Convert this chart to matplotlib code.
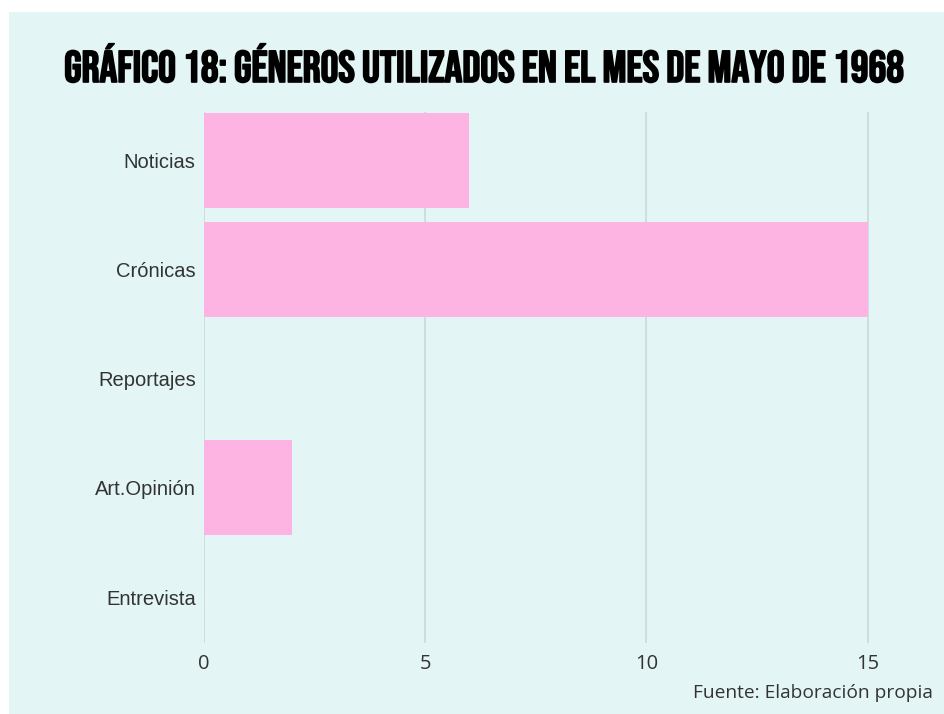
import matplotlib
matplotlib.use('Agg')
import matplotlib.pyplot as plt
from matplotlib.patches import Rectangle
import matplotlib.patheffects as pe

categories = ['Noticias', 'Crónicas', 'Reportajes', 'Art.Opinión', 'Entrevista']
values = [6, 15, 0, 2, 0]
xticks = [0, 5, 10, 15]

bg = '#e3f6f5'
bar_color = '#fdb4e2'
grid_color = '#cbdcdc'
text_color = '#333333'

fig = plt.figure(figsize=(9.45, 7.14), dpi=100, facecolor='white')
# light panel behind everything
fig.patches.append(Rectangle((9 / 945, 0), 1, 1 - 12 / 714, transform=fig.transFigure,
                             facecolor=bg, edgecolor='none', zorder=-10))

ax = fig.add_axes([204 / 945, 71 / 714, 708 / 945, 531 / 714])
ax.set_facecolor('none')

ypos = list(range(len(categories)))
ax.barh(ypos, values, height=0.87, color=bar_color, zorder=2)

ax.set_xlim(0, 16)
ax.set_ylim(4.42, -0.44)
ax.set_yticks(ypos)
ax.set_yticklabels(categories, fontsize=14.5, family='Liberation Sans', color=text_color)
ax.set_xticks(xticks)
ax.set_xticklabels([str(t) for t in xticks], fontsize=14.5, family='Open Sans', color=text_color)
ax.tick_params(length=0)
ax.tick_params(axis='y', pad=6)
ax.tick_params(axis='x', pad=8)

for t in xticks:
    ax.axvline(t, color=grid_color, lw=1.3, zorder=1)
for s in ax.spines.values():
    s.set_visible(False)

fig.text(486 / 945, 1 - 63 / 714, 'GRÁFICO 18: GÉNEROS UTILIZADOS EN EL MES DE MAYO DE 1968',
         ha='center', va='center', fontsize=32,
         family=['Bebas Neue', 'DejaVu Sans'], color='black',
         path_effects=[pe.withStroke(linewidth=1.2, foreground='black')])
fig.text(933 / 945, 1 - 693 / 714, 'Fuente: Elaboración propia', ha='right', va='center',
         fontsize=13.8, family='Open Sans', color=text_color)

fig.savefig('out.png', dpi=100, facecolor='white')
